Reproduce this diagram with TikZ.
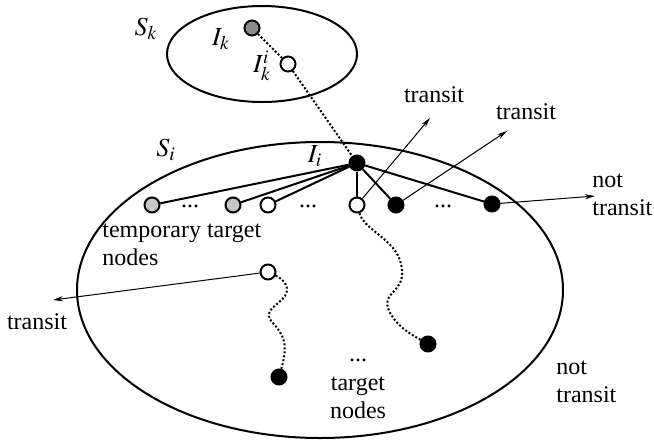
\documentclass[tikz,border=0pt]{standalone}
\usepackage{mathptmx}
\usepackage{fontspec}
\setmainfont{Liberation Serif}
\usetikzlibrary{arrows.meta,shapes.geometric}
\definecolor{darkv}{HTML}{8c8c8c}
\definecolor{lightv}{HTML}{c4c4c4}

\begin{document}
\begin{tikzpicture}[x=0.5pt,y=-0.5pt,
  font=\fontsize{12}{14}\selectfont,
  set/.style={ellipse, draw, line width=1pt, inner sep=0pt},
  vtx/.style={circle, draw, line width=1pt, inner sep=0pt, minimum size=7.5pt},
  link/.style={line width=1pt},
  trail/.style={densely dotted, line width=1pt},
  tarr/.style={-{Stealth[length=5pt,width=2.6pt]}, line width=0.5pt},
  lbl/.style={inner sep=0pt, align=left},
  mlbl/.style={inner sep=0pt, font=\fontsize{13}{15}\selectfont},
]
  \useasboundingbox (0,0) rectangle (654,440);
  % the two sets
  \node[set, minimum width=95pt, minimum height=48pt](Sk) at (262,54){};
  \node[set, minimum width=243pt, minimum height=148pt](Si) at (320,290){};
  \node[mlbl] at (146,29){$S_k$};
  \node[mlbl] at (166,150){$S_i$};
  % nodes of S_k
  \node[vtx, fill=darkv](Ik) at (252,28){};
  \node[vtx, fill=white](Iki) at (288,64){};
  \node[mlbl] at (221,39){$I_k$};
  \node[mlbl] at (262,66){$I_k^i$};
  % nodes of S_i
  \node[vtx, fill=black](Ii) at (357,163){};
  \node[mlbl] at (315,156){$I_i$};
  \node[vtx, fill=lightv](g1) at (152,205){};
  \node[vtx, fill=lightv](g2) at (233,205){};
  \node[vtx, fill=white](w1) at (268,205){};
  \node[vtx, fill=white](w2) at (357,205){};
  \node[vtx, fill=black](b1) at (396,205){};
  \node[vtx, fill=black](b2) at (492,204){};
  \node[lbl] at (190,206){...};
  \node[lbl] at (308,206){...};
  \node[lbl] at (443,206){...};
  \node[vtx, fill=white](w3) at (268,272){};
  \node[vtx, fill=black](b3) at (279,377){};
  \node[vtx, fill=black](b4) at (428,344){};
  \foreach \v in {g1,g2,w1,w2,b1,b2} \draw[link](Ii)--(\v);
  % paths
  \draw[trail](Ik)--(Iki)--(Ii);
  \draw[trail](w2) .. controls (365,232) and (400,240) .. (402,270)
    .. controls (404,292) and (383,292) .. (388,308)
    .. controls (394,325) and (412,335) .. (b4);
  \draw[trail](w3) .. controls (285,280) and (290,288) .. (285,296)
    .. controls (278,306) and (262,310) .. (272,322)
    .. controls (285,336) and (288,345) .. (b3);
  % leaving arrows
  \coordinate (t1) at (430,118);
  \coordinate (t2) at (507,131);
  \coordinate (t3) at (595,196);
  \coordinate (t4) at (53,300);
  \draw[tarr](w2)--(t1);
  \draw[tarr](b1)--(t2);
  \draw[tarr](b2)--(t3);
  \draw[tarr](w3)--(t4);
  \node[lbl] at (434,95){transit};
  \node[lbl] at (526,112){transit};
  \node[lbl] at (37,322){transit};
  \node[lbl, anchor=base west] at (592,215){not\\transit};
  \node[lbl, anchor=base west] at (556,402){not\\transit};
  \node[lbl, anchor=base west] at (102,265){temporary target\\nodes};
  \node[lbl] at (358,360){...};
  \node[lbl, align=center, anchor=base] at (358,418){target\\nodes};
\end{tikzpicture}
\end{document}
